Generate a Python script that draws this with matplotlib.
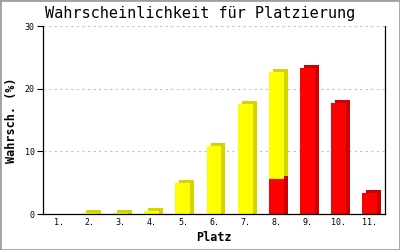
import matplotlib
matplotlib.use("Agg")
import matplotlib.pyplot as plt
import matplotlib.transforms as mtransforms
from matplotlib.patches import Rectangle
import numpy as np

# ── data ─────────────────────────────────────────────────────────────────────
places = ["1.", "2.", "3.", "4.", "5.", "6.", "7.", "8.", "9.", "10.", "11."]
red_vals = [0, 0, 0, 0, 0, 0, 0, 5.6, 23.3, 17.7, 3.3]
yellow_vals = [0, 0.2, 0.2, 0.5, 4.9, 10.8, 17.6, 17.1, 0, 0, 0]

YELLOW, YELLOW_DARK = "#ffff00", "#d4d400"
RED, RED_DARK = "#ff0000", "#cc0000"
MONO = "DejaVu Sans Mono"

# ── figure ───────────────────────────────────────────────────────────────────
fig = plt.figure(figsize=(4, 2.5), dpi=100)
ax = fig.add_axes([43 / 400, 36 / 250, 342 / 400, 188 / 250])

x = np.arange(len(places))
w = 0.48
red = np.array(red_vals)
yellow = np.array(yellow_vals)
DX, DY = 4, 3          # depth in pixels
dy_data = DY * 30 / 188  # same depth in y units

# 3d look: a darker copy shifted a few pixels right/up behind each bar,
# pulled down to the baseline so the side face reaches the axis
shift = ax.transData + mtransforms.ScaledTranslation(DX / 100, DY / 100, fig.dpi_scale_trans)
ax.bar(x, np.where(yellow > 0, yellow + dy_data, 0), w, bottom=red - dy_data,
       color=YELLOW_DARK, lw=0, transform=shift, zorder=2)
ax.bar(x, np.where(red > 0, red + dy_data, 0), w, bottom=-dy_data,
       color=RED_DARK, lw=0, transform=shift, zorder=2)
ax.bar(x, red, w, color=RED, lw=0, zorder=3)
ax.bar(x, yellow, w, bottom=red, color=YELLOW, lw=0, zorder=3)

ax.set_xlim(-0.5, len(places) - 0.5)
ax.set_ylim(0, 30)
ax.set_yticks([0, 10, 20, 30])
ax.set_xticks(x)
ax.set_xticklabels(places)
ax.yaxis.grid(True, color="#c0c0c0", ls=(0, (2, 3)), lw=0.8, zorder=0)
ax.set_axisbelow(True)

for side in ("left", "bottom", "right"):
    ax.spines[side].set_color("black")
    ax.spines[side].set_linewidth(0.9)
    ax.spines[side].set_zorder(5)
ax.spines["top"].set_visible(False)

ax.tick_params(axis="y", length=4, width=0.8, pad=2, labelsize=6)
ax.tick_params(axis="x", length=0, pad=3, labelsize=6)
for lab in ax.get_xticklabels() + ax.get_yticklabels():
    lab.set_family(MONO)

ax.set_xlabel("Platz", family=MONO, fontsize=8.5, fontweight="bold", labelpad=3)
ax.set_ylabel("Wahrsch. (%)", family=MONO, fontsize=8.5, fontweight="bold", labelpad=5)
fig.text(0.5, 0.945, "Wahrscheinlichkeit für Platzierung", family=MONO,
         fontsize=11, ha="center", va="center")

fig.add_artist(Rectangle((0, 0), 1, 1, transform=fig.transFigure, fill=False,
                         edgecolor="#a0a0a0", lw=2))

fig.savefig("out.png", dpi=100)
